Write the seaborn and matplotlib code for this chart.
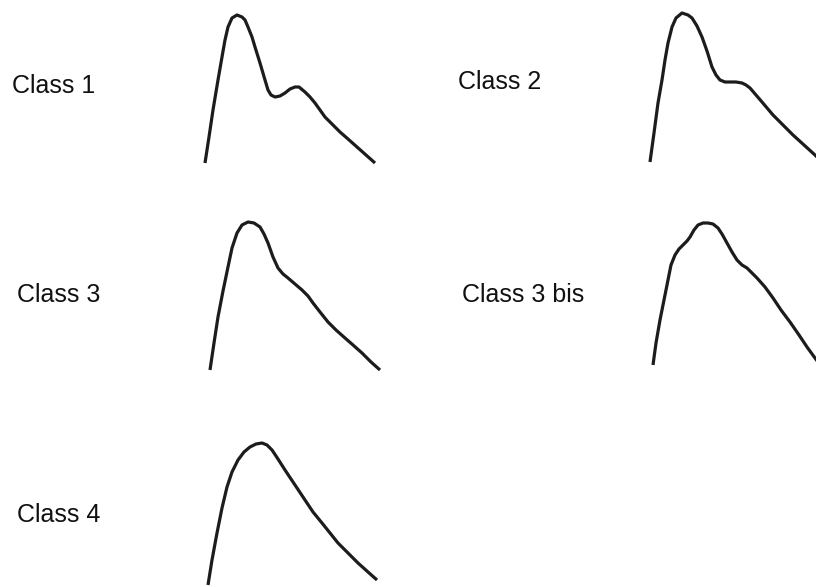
import matplotlib
matplotlib.use("Agg")
import matplotlib.pyplot as plt
import seaborn as sns

sns.set_theme(style="white")
plt.rcParams["font.family"] = ["Liberation Sans", "DejaVu Sans"]

# Profile shapes per class: time (x) and response (y), in a common unit scale
class1_x = [0, 4, 8, 13, 17, 20, 23, 27, 32, 37, 40, 43, 47, 50, 55, 60, 63, 66, 70, 75, 80, 85, 90, 94, 100, 105, 110, 115, 120, 127, 135, 143, 152, 161, 170]
class1_y = [0, 26, 53, 83, 106, 123, 136, 145, 148, 146, 143, 136, 126, 116, 100, 83, 73, 68, 66, 67, 70, 74, 76, 76, 71, 66, 60, 53, 46, 39, 31, 24, 16, 8, 0]

class2_x = [0, 4, 8, 12, 15, 18, 22, 26, 32, 38, 42, 47, 52, 57, 62, 66, 70, 75, 80, 86, 92, 96, 100, 106, 112, 123, 133, 143, 154, 165, 172]
class2_y = [0, 29, 59, 82, 102, 119, 135, 144, 149, 147, 144, 136, 125, 111, 95, 87, 82, 80, 80, 80, 79, 77, 74, 67, 60, 47, 37, 27, 17, 7, 0]

class3_x = [0, 4, 8, 13, 18, 22, 27, 32, 38, 44, 50, 54, 58, 63, 68, 73, 78, 85, 92, 98, 103, 110, 118, 126, 135, 143, 152, 161, 170]
class3_y = [0, 27, 53, 79, 103, 122, 137, 145, 148, 147, 143, 136, 127, 113, 102, 96, 92, 86, 80, 74, 67, 58, 48, 40, 32, 25, 17, 8, 0]

class3bis_x = [0, 3, 7, 11, 15, 18, 22, 26, 30, 34, 37, 41, 45, 50, 55, 60, 65, 69, 74, 79, 84, 89, 94, 99, 104, 112, 120, 128, 137, 146, 154, 162, 167]
class3bis_y = [0, 22, 45, 65, 85, 100, 110, 116, 120, 124, 128, 135, 140, 142, 142, 141, 137, 131, 122, 113, 105, 100, 97, 92, 87, 78, 67, 55, 43, 30, 18, 7, 0]

class4_x = [0, 4, 9, 14, 19, 24, 30, 36, 42, 48, 54, 59, 64, 70, 77, 87, 97, 105, 114, 122, 130, 140, 150, 160, 169]
class4_y = [0, 25, 52, 77, 98, 113, 125, 133, 138, 141, 142, 140, 135, 126, 115, 100, 85, 73, 62, 52, 42, 32, 22, 13, 5]

labels = ["Class 1", "Class 2", "Class 3", "Class 3 bis", "Class 4"]
profiles = [
    (class1_x, class1_y),
    (class2_x, class2_y),
    (class3_x, class3_y),
    (class3bis_x, class3bis_y),
    (class4_x, class4_y),
]

W, H = 816, 587
fig = plt.figure(figsize=(W / 100, H / 100), dpi=100)
fig.patch.set_facecolor("white")

# Panel placement in pixels: (curve origin x, baseline y), label (x, y)
panel_origin = [(205, 163), (650, 162), (210, 370), (653, 365), (208, 585)]
label_pos = [(12, 86), (458, 82), (17, 295), (462, 295), (17, 515)]

PW, PH = 180, 160
line_color = "#1c1c1c"

for (px, py), (lx, ly), name, (xs, ys) in zip(panel_origin, label_pos, labels, profiles):
    ax = fig.add_axes([px / W, (H - py) / H, PW / W, PH / H])
    sns.lineplot(x=xs, y=ys, ax=ax, color=line_color, linewidth=2.3,
                 sort=False, estimator=None)
    for ln in ax.lines:
        ln.set_clip_on(False)
        ln.set_solid_joinstyle("round")
        ln.set_solid_capstyle("butt")
    ax.set_xlim(0, PW)
    ax.set_ylim(0, PH)
    ax.set_axis_off()
    fig.text(lx / W, 1 - ly / H, name, ha="left", va="center",
             fontsize=18, color="#111111")

fig.savefig("out.png", dpi=100, facecolor="white")
